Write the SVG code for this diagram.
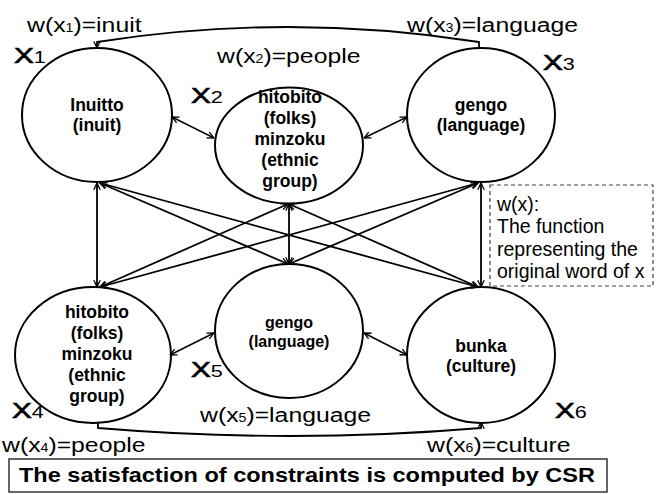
<svg xmlns="http://www.w3.org/2000/svg" width="662" height="494" viewBox="0 0 662 494">
<defs>
<marker id="ah" viewBox="0 0 10 10" refX="9.5" refY="5" markerWidth="8" markerHeight="8" markerUnits="userSpaceOnUse" orient="auto-start-reverse">
<path d="M1,1 L9.5,5 L1,9" fill="none" stroke="#000" stroke-width="1.6"/>
</marker>
<style>
.nd ellipse{fill:#fff;stroke:#000;stroke-width:2}
.nt{font-family:"Liberation Sans",Arial,sans-serif;font-weight:bold;font-size:17.5px;text-anchor:middle;fill:#000}
.n5{font-size:16px}
.lb{font-family:"Liberation Sans",Arial,sans-serif;font-size:21px;fill:#000}
.sub{font-size:12px}
.xl{font-family:"Liberation Sans",Arial,sans-serif;font-size:22px;fill:#000;stroke:#000;stroke-width:0.7}
.xd{font-size:16px;stroke-width:0}
.e{stroke:#000;stroke-width:1.8;fill:none;marker-start:url(#ah);marker-end:url(#ah)}
.s{stroke-width:1.5}
.c{stroke:#000;stroke-width:1.8;fill:none}
.note{font-family:"Liberation Sans",Arial,sans-serif;font-size:19.5px;fill:#000}
.csr{font-family:"Liberation Sans",Arial,sans-serif;font-size:21px;font-weight:bold;fill:#000}
</style>
</defs>
<rect width="662" height="494" fill="#fff"/>

<g id="x1" class="nd">
<ellipse cx="97" cy="115" rx="75" ry="67"/>
<text class="nt"><tspan x="97" y="111">Inuitto</tspan><tspan x="97" y="131">(inuit)</tspan></text>
<text class="xl" transform="translate(14,63) scale(1.35,1)">X<tspan class="xd">1</tspan></text>
<text class="lb" transform="translate(27,32) scale(1.18,1)">w(x<tspan class="sub">1</tspan>)=inuit</text>
</g>

<g id="x2" class="nd">
<ellipse cx="289" cy="145.5" rx="74" ry="58"/>
<text class="nt"><tspan x="290" y="103">hitobito</tspan><tspan x="290" y="124">(folks)</tspan><tspan x="290" y="145">minzoku</tspan><tspan x="290" y="166">(ethnic</tspan><tspan x="290" y="187">group)</tspan></text>
<text class="xl" transform="translate(191,103) scale(1.35,1)">X<tspan class="xd">2</tspan></text>
<text class="lb" transform="translate(217,63) scale(1.18,1)">w(x<tspan class="sub">2</tspan>)=people</text>
</g>

<g id="x3" class="nd">
<ellipse cx="481" cy="115" rx="74" ry="67"/>
<text class="nt"><tspan x="481" y="111">gengo</tspan><tspan x="481" y="131">(language)</tspan></text>
<text class="xl" transform="translate(543,70) scale(1.35,1)">X<tspan class="xd">3</tspan></text>
<text class="lb" transform="translate(407,32) scale(1.18,1)">w(x<tspan class="sub">3</tspan>)=language</text>
</g>

<g id="x4" class="nd">
<ellipse cx="93" cy="355" rx="78" ry="68"/>
<text class="nt"><tspan x="97" y="318">hitobito</tspan><tspan x="97" y="339">(folks)</tspan><tspan x="97" y="360">minzoku</tspan><tspan x="97" y="381">(ethnic</tspan><tspan x="97" y="402">group)</tspan></text>
<text class="xl" transform="translate(12,418) scale(1.35,1)">X<tspan class="xd">4</tspan></text>
<text class="lb" transform="translate(2,452) scale(1.18,1)">w(x<tspan class="sub">4</tspan>)=people</text>
</g>

<g id="x5" class="nd">
<ellipse cx="289" cy="331" rx="74" ry="67"/>
<text class="nt n5"><tspan x="289" y="328">gengo</tspan><tspan x="289" y="347">(language)</tspan></text>
<text class="xl" transform="translate(191,377) scale(1.35,1)">X<tspan class="xd">5</tspan></text>
<text class="lb" transform="translate(200,422) scale(1.18,1)">w(x<tspan class="sub">5</tspan>)=language</text>
</g>

<g id="x6" class="nd">
<ellipse cx="481" cy="355" rx="74" ry="68"/>
<text class="nt"><tspan x="481" y="352">bunka</tspan><tspan x="481" y="372">(culture)</tspan></text>
<text class="xl" transform="translate(555,418) scale(1.35,1)">X<tspan class="xd">6</tspan></text>
<text class="lb" transform="translate(427,452) scale(1.18,1)">w(x<tspan class="sub">6</tspan>)=culture</text>
</g>

<g id="connectors">
<line class="e s" x1="172" y1="117" x2="214" y2="138"/>
<line class="e s" x1="364" y1="138" x2="407" y2="117"/>
<line class="e s" x1="170" y1="355" x2="214" y2="333"/>
<line class="e s" x1="364" y1="333" x2="407" y2="355"/>
<line class="e" x1="97" y1="183" x2="97" y2="287"/>
<line class="e" x1="481" y1="183" x2="481" y2="287"/>
<line class="e" x1="289" y1="204" x2="289" y2="264"/>
<line class="e" x1="100" y1="183" x2="288" y2="264"/>
<line class="e" x1="100" y1="183" x2="478" y2="287"/>
<line class="e" x1="100" y1="287" x2="288" y2="204"/>
<line class="e" x1="100" y1="287" x2="478" y2="183"/>
<line class="e" x1="289" y1="204" x2="478" y2="287"/>
<line class="e" x1="478" y1="183" x2="289" y2="264"/>
<path class="c" d="M479,48 L479,42 Q288,12 97,42 L97,48" marker-end="url(#ah)"/>
<path class="c" d="M98,422 L98,428 Q290,444 481,428 L481,422" marker-end="url(#ah)"/>
</g>

<g id="note">
<rect x="490" y="185" width="163" height="101" fill="#fff" stroke="#444" stroke-width="1.2" stroke-dasharray="4,3"/>
<text class="note"><tspan x="497" y="211">w(x):</tspan><tspan x="497" y="233">The function</tspan><tspan x="497" y="256">representing the</tspan><tspan x="497" y="278">original word of x</tspan></text>
</g>

<g id="caption">
<rect x="9" y="459" width="598" height="33" fill="#fff" stroke="#333" stroke-width="1.5"/>
<text class="csr" transform="translate(19,482) scale(1.12,1)">The satisfaction of constraints is computed by CSR</text>
</g>
</svg>
